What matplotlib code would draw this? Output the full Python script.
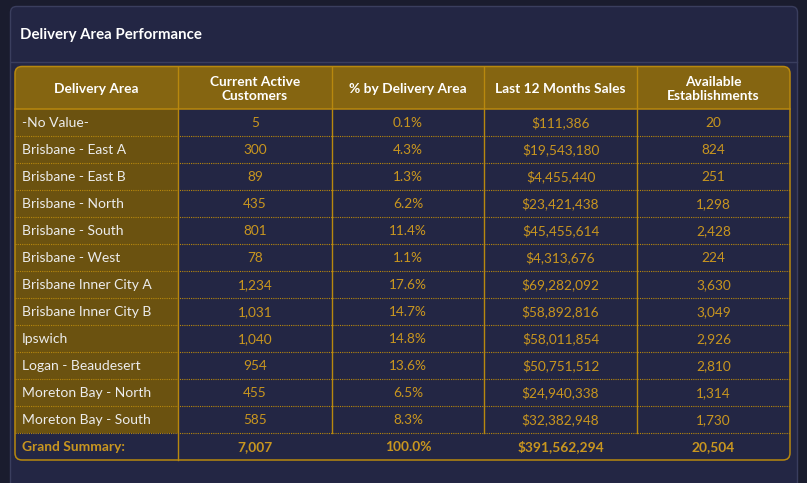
import matplotlib
matplotlib.use("Agg")
import matplotlib.pyplot as plt
from matplotlib.patches import FancyBboxPatch, Rectangle

title = "Delivery Area Performance"
columns = ["Delivery Area", "Current Active\nCustomers", "% by Delivery Area",
           "Last 12 Months Sales", "Available\nEstablishments"]
areas = ["-No Value-", "Brisbane - East A", "Brisbane - East B", "Brisbane - North",
         "Brisbane - South", "Brisbane - West", "Brisbane Inner City A",
         "Brisbane Inner City B", "Ipswich", "Logan - Beaudesert",
         "Moreton Bay - North", "Moreton Bay - South"]
customers = [5, 300, 89, 435, 801, 78, 1234, 1031, 1040, 954, 455, 585]
pct = [0.1, 4.3, 1.3, 6.2, 11.4, 1.1, 17.6, 14.7, 14.8, 13.6, 6.5, 8.3]
sales = [111386, 19543180, 4455440, 23421438, 45455614, 4313676, 69282092,
         58892816, 58011854, 50751512, 24940338, 32382948]
establishments = [20, 824, 251, 1298, 2428, 224, 3630, 3049, 2926, 2810, 1314, 1730]
summary_label = "Grand Summary:"
total_customers = 7007
total_pct = 100.0
total_sales = 391562294
total_establishments = 20504

W, H = 807, 483
fig = plt.figure(figsize=(W / 100, H / 100), dpi=100)
fig.patch.set_facecolor("#1a1c2e")
ax = fig.add_axes([0, 0, 1, 1])
ax.set_xlim(0, W)
ax.set_ylim(H, 0)
ax.axis("off")

FONT = "Lato"
BG_PANEL = "#232644"
GOLD = "#b8880e"
HEADER = "#856511"
FIRSTCOL = "#6b5210"
VALUE = "#c9961f"

# panel
ax.add_patch(FancyBboxPatch((10.5, 6.5), 787, 520, boxstyle="round,pad=0,rounding_size=6",
                            fc=BG_PANEL, ec="#3a3e5e", lw=1.0, zorder=1))
ax.plot([11, 797], [61.5, 61.5], color="#3a3e5e", lw=1.0, zorder=2)
ax.text(20, 35, title, color="white", fontsize=10.8, fontweight="bold",
        family=FONT, va="center", ha="left", zorder=3)

# table geometry
xs = [15, 178, 332, 484, 637, 790]
top, head_bot, rh = 66.5, 109, 27.0
n = len(areas)
rows_y = [head_bot + i * rh for i in range(n + 2)]
bottom = rows_y[-1]

# header background with rounded top corners
ax.add_patch(FancyBboxPatch((xs[0], top), xs[-1] - xs[0], head_bot - top,
                            boxstyle="round,pad=0,rounding_size=7", fc=HEADER, ec="none", zorder=2))
ax.add_patch(Rectangle((xs[0], top + 10), xs[-1] - xs[0], head_bot - top - 10,
                       fc=HEADER, ec="none", zorder=2))
# first column body
ax.add_patch(Rectangle((xs[0], head_bot), xs[1] - xs[0], n * rh, fc=FIRSTCOL, ec="none", zorder=2))
# outer border
ax.add_patch(FancyBboxPatch((xs[0], top), xs[-1] - xs[0], bottom - top,
                            boxstyle="round,pad=0,rounding_size=7", fc="none", ec=GOLD, lw=1.1, zorder=5))
# header bottom line
ax.plot([xs[0], xs[-1]], [head_bot, head_bot], color=GOLD, lw=1.1, zorder=4)
# vertical lines
for i, x in enumerate(xs[1:-1]):
    yb = bottom if i == 0 else rows_y[n]
    ax.plot([x, x], [top, yb], color=GOLD, lw=1.0, zorder=4)
# dotted row separators
for y in rows_y[1:n + 1]:
    ax.plot([xs[0], xs[-1]], [y, y], color=GOLD, lw=0.8, ls=(0, (1, 1.0)), zorder=4)

# header text
for i, c in enumerate(columns):
    ax.text((xs[i] + xs[i + 1]) / 2, (top + head_bot) / 2 + 1, c, color="white",
            fontsize=9.9, fontweight="bold", family=FONT, ha="center", va="center",
            linespacing=1.2, zorder=6)

# body
for r in range(n):
    yc = rows_y[r] + rh / 2 + 0.5
    ax.text(22, yc, areas[r], color="#ececec", fontsize=10.0, family=FONT,
            ha="left", va="center", zorder=6)
    vals = [f"{customers[r]:,}", f"{pct[r]:.1f}%", f"${sales[r]:,}", f"{establishments[r]:,}"]
    for j, v in enumerate(vals):
        ax.text((xs[j + 1] + xs[j + 2]) / 2, yc, v, color=VALUE, fontsize=9.8,
                family=FONT, ha="center", va="center", zorder=6)

# summary
yc = rows_y[n] + rh / 2 + 0.5
ax.text(22, yc, summary_label, color=VALUE, fontsize=9.9, fontweight="bold",
        family=FONT, ha="left", va="center", zorder=6)
svals = [f"{total_customers:,}", f"{total_pct:.1f}%", f"${total_sales:,}", f"{total_establishments:,}"]
for j, v in enumerate(svals):
    ax.text((xs[j + 1] + xs[j + 2]) / 2, yc, v, color=VALUE, fontsize=9.9,
            fontweight="bold", family=FONT, ha="center", va="center", zorder=6)

fig.savefig("out.png", dpi=100, facecolor=fig.get_facecolor())
